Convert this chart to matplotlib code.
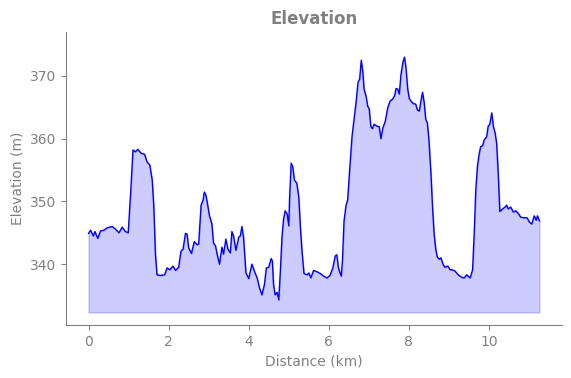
import matplotlib

matplotlib.use("Agg")
import matplotlib.pyplot as plt
import numpy as np

# distance along the track (km) and elevation (m)
distance_km = [
    0.00, 0.05, 0.12, 0.16, 0.23, 0.30, 0.38, 0.47, 0.59, 0.67, 0.76, 0.84, 0.92, 0.99,
    1.05, 1.11, 1.17, 1.23, 1.31, 1.40, 1.46, 1.53, 1.59, 1.63, 1.67, 1.71, 1.80, 1.90,
    1.96, 2.03, 2.11, 2.17, 2.25, 2.31, 2.36, 2.42, 2.46, 2.50, 2.57, 2.64, 2.71, 2.75,
    2.81, 2.86, 2.89, 2.93, 2.97, 3.02, 3.08, 3.12, 3.17, 3.21, 3.27, 3.33, 3.37, 3.43,
    3.48, 3.54, 3.58, 3.62, 3.68, 3.75, 3.79, 3.83, 3.87, 3.93, 4.00, 4.08, 4.14, 4.21,
    4.27, 4.33, 4.39, 4.44, 4.50, 4.56, 4.59, 4.62, 4.66, 4.71, 4.75, 4.79, 4.83, 4.87,
    4.91, 4.96, 5.00, 5.02, 5.06, 5.10, 5.14, 5.20, 5.25, 5.29, 5.33, 5.38, 5.46, 5.50,
    5.55, 5.62, 5.70, 5.79, 5.87, 5.95, 6.03, 6.10, 6.16, 6.20, 6.24, 6.28, 6.31, 6.34,
    6.38, 6.43, 6.47, 6.52, 6.58, 6.63, 6.68, 6.73, 6.77, 6.81, 6.85, 6.88, 6.93, 6.97,
    7.01, 7.05, 7.09, 7.13, 7.20, 7.26, 7.30, 7.35, 7.41, 7.47, 7.53, 7.59, 7.64, 7.68,
    7.72, 7.76, 7.80, 7.85, 7.89, 7.93, 7.97, 8.01, 8.05, 8.11, 8.17, 8.21, 8.26, 8.30,
    8.34, 8.38, 8.42, 8.46, 8.50, 8.55, 8.59, 8.63, 8.67, 8.71, 8.76, 8.80, 8.85, 8.90,
    8.97, 9.03, 9.09, 9.15, 9.23, 9.32, 9.38, 9.44, 9.53, 9.59, 9.63, 9.67, 9.71, 9.75,
    9.79, 9.84, 9.88, 9.94, 9.98, 10.02, 10.07, 10.11, 10.15, 10.19, 10.23, 10.27, 10.34,
    10.40, 10.44, 10.48, 10.54, 10.61, 10.67, 10.73, 10.79, 10.86, 10.95, 11.01, 11.07,
    11.13, 11.18, 11.21, 11.26,
]
elevation_m = [
    344.9, 345.4, 344.5, 345.2, 344.1, 345.3, 345.4, 345.8, 346.0, 345.6, 345.0, 345.9, 345.2, 345.0,
    351.2, 358.2, 357.9, 358.3, 357.7, 357.5, 356.3, 355.8, 353.4, 349.1, 341.6, 338.3, 338.2, 338.3,
    339.4, 339.1, 339.7, 339.0, 339.5, 342.1, 342.4, 344.9, 344.8, 342.6, 341.7, 343.6, 343.1, 343.2,
    349.4, 350.2, 351.5, 351.0, 349.6, 347.7, 346.4, 343.4, 342.9, 341.6, 340.0, 342.7, 341.6, 344.0,
    342.4, 341.8, 345.2, 344.5, 342.2, 344.3, 344.5, 346.0, 344.3, 338.6, 337.7, 340.0, 338.9, 337.8,
    336.2, 335.1, 336.7, 339.4, 339.5, 340.9, 340.5, 336.7, 335.1, 335.5, 334.3, 338.9, 344.3, 347.2,
    348.5, 348.0, 346.1, 350.4, 356.1, 355.5, 353.4, 352.9, 350.7, 345.9, 342.1, 338.5, 338.3, 338.6,
    337.8, 339.0, 338.8, 338.5, 338.1, 337.8, 338.2, 339.4, 341.3, 341.5, 339.4, 338.6, 338.1, 340.5,
    346.9, 349.4, 350.2, 355.0, 360.4, 363.1, 365.8, 369.0, 369.5, 372.5, 370.6, 367.9, 366.8, 365.2,
    364.7, 361.9, 361.6, 362.3, 362.0, 361.9, 360.0, 361.7, 362.8, 364.9, 366.0, 366.3, 366.8, 368.0,
    367.9, 367.1, 370.1, 372.2, 373.0, 371.1, 367.9, 366.4, 366.0, 365.6, 365.5, 364.6, 364.4, 366.0,
    367.4, 365.8, 363.1, 362.5, 359.8, 354.5, 349.1, 344.8, 342.4, 341.1, 340.8, 341.0, 340.0, 339.5,
    339.7, 339.1, 339.1, 338.9, 338.3, 337.9, 337.8, 338.3, 337.8, 339.1, 344.8, 351.8, 355.5, 357.4,
    358.7, 358.9, 359.8, 360.3, 362.0, 362.3, 364.1, 361.9, 361.0, 359.3, 354.5, 348.4, 348.8,
    349.1, 349.4, 348.8, 349.1, 348.3, 348.5, 348.1, 347.5, 347.4, 347.4, 346.7, 346.4,
    347.7, 347.0, 347.7, 346.9,
]

GREY = "#808080"

dist = np.asarray(distance_km)
elev = np.asarray(elevation_m)
base = elev.min() - 2

fig = plt.figure(figsize=(5.71, 3.78), dpi=100)
ax = fig.add_axes([66 / 571, 1 - 325 / 378, 496 / 571, 293 / 378])
ax.fill_between(dist, elev, base, color="blue", alpha=0.2)
ax.plot(dist, elev, color="blue", linewidth=1.0)
ax.set_ylim(elev.min() - 4, elev.max() + 4)

ax.set_title("Elevation", fontsize=12, fontweight="bold", color=GREY)
ax.set_xlabel("Distance (km)", color=GREY)
ax.set_ylabel("Elevation (m)", color=GREY)
ax.tick_params(colors=GREY)
for side in ("top", "right"):
    ax.spines[side].set_visible(False)
for side in ("left", "bottom"):
    ax.spines[side].set_color(GREY)

fig.savefig("out.png", dpi=100)
